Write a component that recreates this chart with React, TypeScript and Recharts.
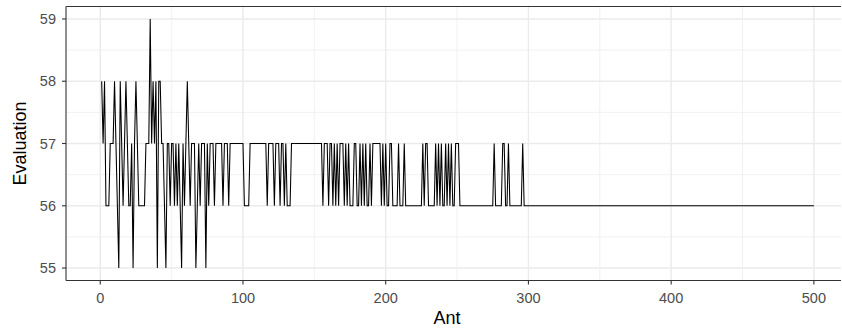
import React from 'react';
import { LineChart, Line, XAxis, YAxis, CartesianGrid } from 'recharts';

// evaluation per ant, ants 1..300
const headEvaluations = [
  58, 57, 58, 56, 56, 56, 57, 57, 57, 58,
  57, 56, 55, 58, 57, 56, 57, 58, 57, 56,
  56, 57, 55, 57, 58, 57, 56, 56, 56, 56,
  56, 57, 57, 57, 59, 57, 58, 57, 58, 55,
  58, 58, 57, 57, 56, 55, 57, 57, 56, 57,
  57, 56, 57, 56, 57, 56, 55, 57, 56, 57,
  58, 57, 56, 57, 57, 57, 55, 56, 57, 56,
  57, 57, 57, 55, 57, 56, 57, 57, 57, 56,
  57, 57, 57, 57, 57, 56, 57, 57, 57, 56,
  57, 57, 57, 57, 57, 57, 57, 57, 57, 57,
  56, 56, 56, 56, 57, 57, 57, 57, 57, 57,
  57, 57, 57, 57, 57, 57, 56, 57, 57, 57,
  57, 56, 57, 57, 57, 56, 57, 57, 56, 57,
  56, 56, 56, 57, 57, 57, 57, 57, 57, 57,
  57, 57, 57, 57, 57, 57, 57, 57, 57, 57,
  57, 57, 57, 57, 57, 56, 57, 57, 57, 56,
  57, 57, 56, 57, 56, 57, 56, 57, 57, 57,
  56, 57, 56, 57, 56, 56, 56, 57, 57, 56,
  56, 57, 56, 57, 56, 57, 56, 56, 57, 56,
  57, 57, 57, 57, 57, 57, 56, 57, 56, 57,
  56, 56, 57, 57, 56, 56, 56, 56, 57, 56,
  56, 56, 57, 56, 56, 56, 56, 56, 56, 56,
  56, 56, 56, 56, 56, 57, 56, 57, 57, 56,
  56, 56, 56, 56, 57, 56, 57, 56, 57, 56,
  56, 57, 56, 57, 56, 57, 56, 56, 57, 57,
  57, 56, 56, 56, 56, 56, 56, 56, 56, 56,
  56, 56, 56, 56, 56, 56, 56, 56, 56, 56,
  56, 56, 56, 56, 56, 57, 56, 56, 56, 56,
  56, 57, 57, 56, 56, 57, 56, 56, 56, 56,
  56, 56, 56, 56, 56, 57, 56, 56, 56, 56,
];

// from ant 301 to the last ant the run stays flat
const tailRun = { value: 56, lastAnt: 500 };

const xTicks = [0, 100, 200, 300, 400, 500];
const xMinor = [50, 150, 250, 350, 450];
const yTicks = [55, 56, 57, 58, 59];
const yMinor = [55.5, 56.5, 57.5, 58.5];

const data = headEvaluations.map((v, i) => ({ ant: i + 1, evaluation: v }));
for (let a = headEvaluations.length + 1; a <= tailRun.lastAnt; a++) {
  data.push({ ant: a, evaluation: tailRun.value });
}

const FONT = '"Liberation Sans", Arial, Helvetica, sans-serif';
const tickStyle = { fontSize: 14.5, fill: '#4D4D4D', fontFamily: FONT };

const YTitle = ({ viewBox }: any) => {
  const cx = viewBox.x + 19.5;
  const cy = viewBox.y + viewBox.height / 2;
  return (
    <text x={cx} y={cy} transform={`rotate(-90, ${cx}, ${cy})`} textAnchor="middle"
      dominantBaseline="central" fontSize={18} fill="#000" fontFamily={FONT}>
      Evaluation
    </text>
  );
};

const XTitle = ({ viewBox }: any) => {
  const cx = 447;
  const cy = viewBox.y + 37;
  return (
    <text x={cx} y={cy} textAnchor="middle" dominantBaseline="central"
      fontSize={18} fill="#000" fontFamily={FONT}>
      Ant
    </text>
  );
};

export default function App() {
  return (
    <div style={{ position: 'absolute', left: 0, top: 0, width: 842, height: 333, background: '#fff', overflow: 'hidden' }}>
      <LineChart width={842} height={333} data={data} margin={{ top: 5.5, right: 1, bottom: 0, left: 0 }}>
        <CartesianGrid stroke="#EBEBEB" strokeWidth={0.7} verticalValues={xMinor} horizontalValues={yMinor} />
        <CartesianGrid stroke="#EBEBEB" strokeWidth={1.4} verticalValues={xTicks} horizontalValues={yTicks} />
        <XAxis
          dataKey="ant"
          type="number"
          domain={[-24, 519]}
          allowDataOverflow
          ticks={xTicks}
          height={52.5}
          tick={tickStyle}
          tickSize={4}
          tickMargin={8}
          axisLine={{ stroke: '#333333', strokeWidth: 1.1 }}
          tickLine={{ stroke: '#333333', strokeWidth: 1.1 }}
          label={<XTitle />}
        />
        <XAxis
          xAxisId="top"
          orientation="top"
          dataKey="ant"
          type="number"
          domain={[-24, 519]}
          allowDataOverflow
          height={1}
          tick={false}
          tickLine={false}
          axisLine={{ stroke: '#333333', strokeWidth: 1.1 }}
        />
        <YAxis
          type="number"
          domain={[54.8, 59.2]}
          allowDataOverflow
          ticks={yTicks}
          width={66}
          tick={tickStyle}
          tickSize={4}
          tickMargin={6}
          axisLine={{ stroke: '#333333', strokeWidth: 1.1 }}
          tickLine={{ stroke: '#333333', strokeWidth: 1.1 }}
          label={<YTitle />}
        />
        <Line
          type="linear"
          dataKey="evaluation"
          stroke="#000000"
          strokeWidth={1.07}
          dot={false}
          isAnimationActive={false}
        />
      </LineChart>
    </div>
  );
}
